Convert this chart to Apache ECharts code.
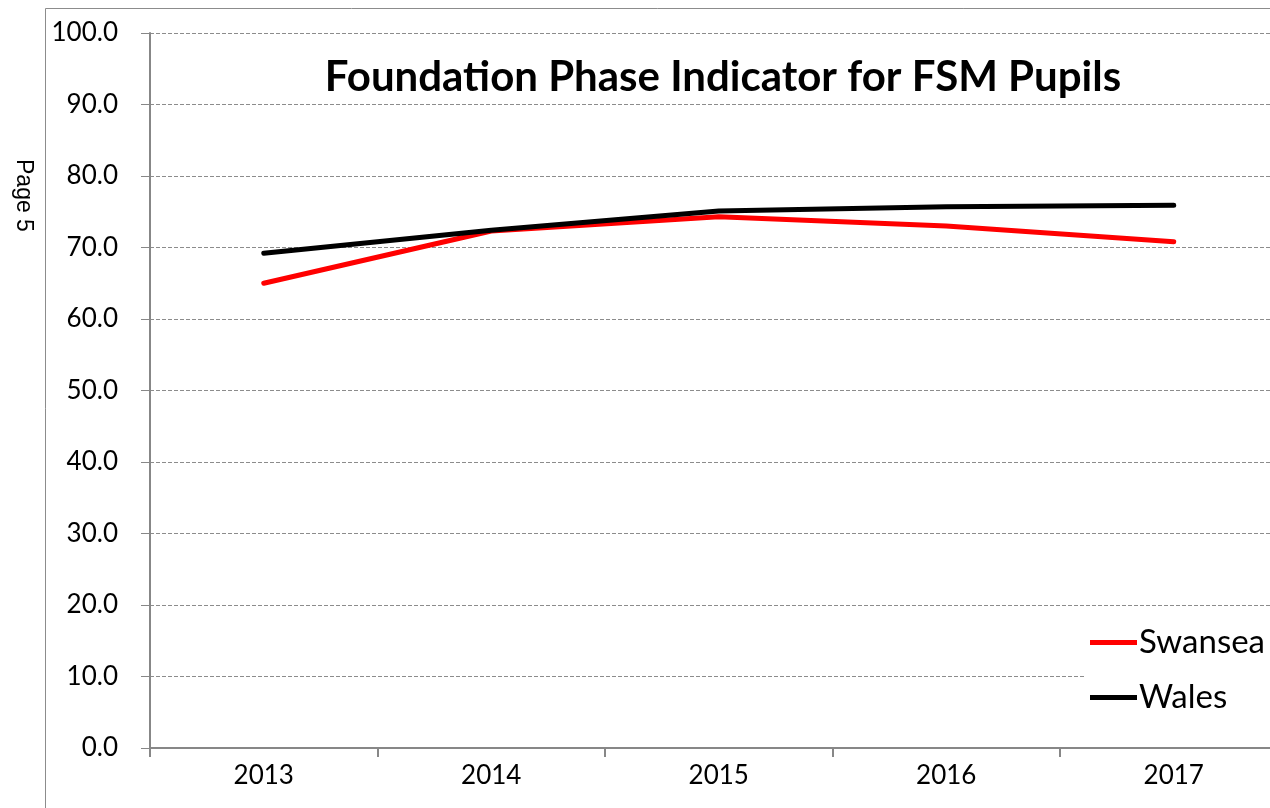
<!DOCTYPE html>
<html>
<head>
<meta charset="utf-8">
<script src="https://cdn.jsdelivr.net/npm/echarts@6/dist/echarts.min.js"></script>
<style>
html,body{margin:0;padding:0;background:#fff;}
#chart{width:1270px;height:808px;}
</style>
</head>
<body>
<div id="chart"></div>
<script>
var categories = ['2013', '2014', '2015', '2016', '2017'];
var swansea = [65.0, 72.3, 74.3, 73.0, 70.8];
var wales = [69.2, 72.4, 75.1, 75.7, 75.9];
var yTicks = { min: 0, max: 100, interval: 10 };

var chart = echarts.init(document.getElementById('chart'), null, { renderer: 'canvas' });
var font = 'Lato, "Open Sans", sans-serif';
chart.setOption({
  animation: false,
  backgroundColor: '#fff',
  title: {
    text: 'Foundation Phase Indicator for FSM Pupils',
    left: 718, top: 51, textAlign: 'center',
    textStyle: { fontFamily: font, fontWeight: 'bold', fontSize: 42, color: '#000' }
  },
  grid: { left: 150, top: 33, height: 715, width: 1137.5, containLabel: false, outerBoundsMode: 'none' },
  legend: {
    orient: 'vertical', left: 1086, top: 622,
    backgroundColor: '#fff', padding: [4, 6, 4, 4],
    itemGap: 22, itemWidth: 47, itemHeight: 5, icon: 'rect',
    textStyle: { fontFamily: font, fontSize: 33, color: '#000', padding: [0, 0, 0, -3] },
    data: ['Swansea', 'Wales']
  },
  xAxis: {
    type: 'category', data: categories, boundaryGap: true,
    axisLine: { lineStyle: { color: '#878787', width: 2 } },
    axisTick: { show: true, length: 9, lineStyle: { color: '#878787', width: 2 } },
    axisLabel: { fontFamily: font, fontSize: 26, color: '#000', margin: 15 },
    splitLine: { show: false }
  },
  yAxis: {
    type: 'value', min: yTicks.min, max: yTicks.max, interval: yTicks.interval,
    axisLine: { show: true, lineStyle: { color: '#878787', width: 2 } },
    axisTick: { show: true, length: 9, lineStyle: { color: '#878787', width: 1 } },
    axisLabel: { fontFamily: font, fontSize: 26, color: '#000', margin: 32,
      formatter: function (v) { return v.toFixed(1); } },
    splitLine: { show: true, lineStyle: { color: '#8c8c8c', type: [4, 2], width: 1 } }
  },
  series: [
    { name: 'Swansea', type: 'line', data: swansea, symbol: 'none',
      lineStyle: { color: '#ff0000', width: 5, cap: 'round' }, itemStyle: { color: '#ff0000' }, z: 3 },
    { name: 'Wales', type: 'line', data: wales, symbol: 'none',
      lineStyle: { color: '#000000', width: 5, cap: 'round' }, itemStyle: { color: '#000000' }, z: 4 }
  ],
  graphic: [
    { type: 'polyline', shape: { points: [[45.5, 808], [45.5, 8.5], [1270, 8.5]] },
      style: { stroke: '#8c8c8c', lineWidth: 1, fill: null }, silent: true },
    { type: 'text', x: 35, y: 159, rotation: -Math.PI / 2,
      style: { text: 'Page 5', fontFamily: '"Liberation Sans", Arial, sans-serif', fontSize: 23, fill: '#000' } }
  ]
});
</script>
</body>
</html>
